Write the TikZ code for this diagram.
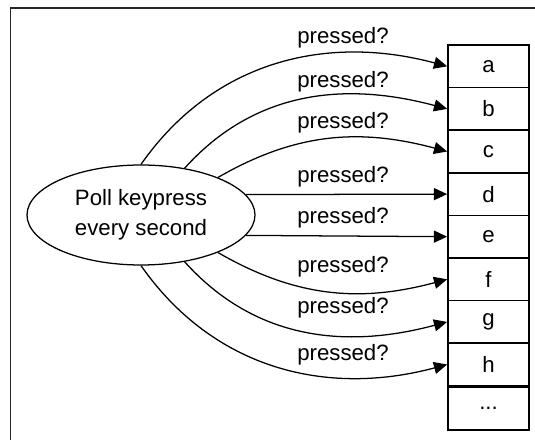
\documentclass[tikz,border=0pt]{standalone}
\usepackage{fontspec}
\setmainfont{Liberation Sans}
\usetikzlibrary{arrows.meta,shapes.geometric,positioning}

\begin{document}
\begin{tikzpicture}[>={Triangle[length=0.33cm,width=0.3cm]},
    font=\fontsize{15.8}{21.5}\selectfont]

    % Colores
    \colorlet{framegray}{black!85}

    % Estilos
    \tikzset{
        keybox/.style={draw, line width=1.2pt, minimum width=2.025cm,
            minimum height=1.065cm, inner sep=0pt},
        link/.style={->, line width=0.9pt},
        asklabel/.style={inner sep=0pt}
    }

    \useasboundingbox (0, 0) rectangle (13.375, 11);

    % 1. Marco (solo borde izquierdo y superior)
    \draw[framegray, line width=1pt] (0.2625, 0) -- (0.2625, 10.8) -- (13.375, 10.8);

    % 2. Elipse de sondeo
    \node[draw, ellipse, line width=0.9pt, minimum width=5.7cm, minimum height=2.5cm,
        inner sep=0pt, align=center] (poll) at (3.525, 5.625) {Poll keypress\\every second};

    % 3. Columna de teclas
    \foreach \t [count=\i] in {a, b, c, d, e, f, g, h} {
        \node[keybox] (key\i) at (12.2125, 9.875-1.065*\i+0.5325) {\t};
    }
    % Casilla final
    \node[keybox, below=0pt of key8] (key9) {...};

    % 4. Flechas hacia las teclas
    \draw[link] (poll.north) to[out=55, in=165] (key1.west);
    \draw[link] (poll.47) to[out=48, in=165] (key2.west);
    \draw[link] (poll.26) to[out=30, in=165] (key3.west);
    \draw[link] (poll.11) -- (key4.west);
    \draw[link] (poll.-11) -- (key5.west);
    \draw[link] (poll.-26) to[out=-30, in=195] (key6.west);
    \draw[link] (poll.-47) to[out=-48, in=195] (key7.west);
    \draw[link] (poll.south) to[out=-55, in=195] (key8.west);

    % 5. Etiquetas
    \node[asklabel] (ask1) at (8.575, 10.05) {pressed?};
    \node[asklabel] (ask2) at (8.575, 8.95) {pressed?};
    \node[asklabel] (ask3) at (8.575, 7.925) {pressed?};
    \node[asklabel] (ask4) at (8.575, 6.575) {pressed?};
    \node[asklabel] (ask5) at (8.575, 5.55) {pressed?};
    \node[asklabel] (ask6) at (8.575, 4.325) {pressed?};
    \node[asklabel] (ask7) at (8.575, 3.3) {pressed?};
    \node[asklabel] (ask8) at (8.575, 2.125) {pressed?};

\end{tikzpicture}
\end{document}
